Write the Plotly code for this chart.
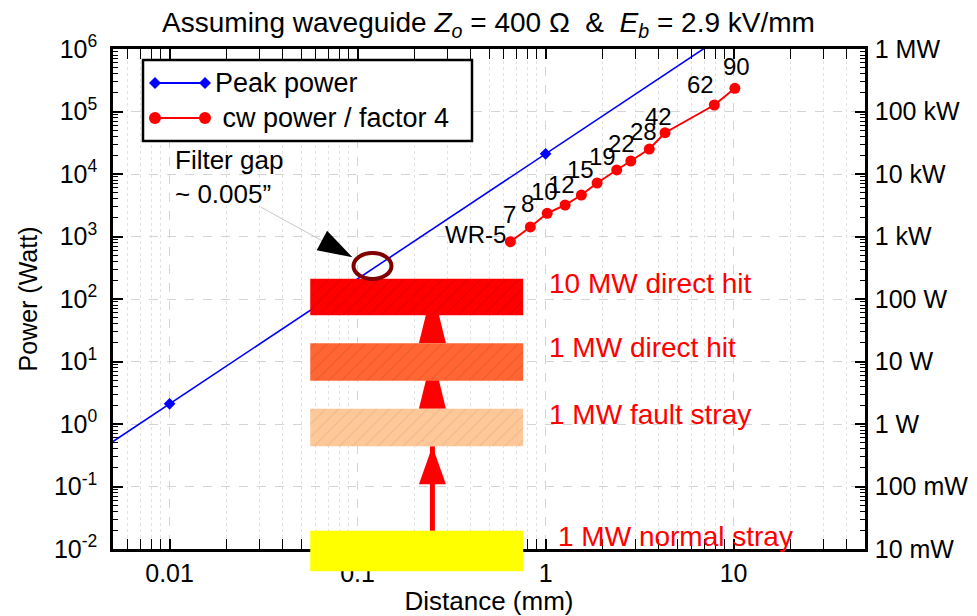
import math
import plotly.graph_objects as go

# ---------------- data ----------------
PEAK_X = [0.005, 0.01, 1.0, 10.0]            # distance (mm)
PEAK_Y = [0.525, 2.1, 2.1e4, 2.1e6]          # peak power (W)
PEAK_MARK_X = [0.01, 1.0]
PEAK_MARK_Y = [2.1, 2.1e4]

WR_LABELS = ["WR-5", "7", "8", "10", "12", "15", "19", "22", "28", "42", "62", "90"]
WR_GAP_MM = [0.65, 0.83, 1.02, 1.27, 1.55, 1.88, 2.39, 2.84, 3.56, 4.32, 7.90, 10.16]
CW_POWER_W = [826, 1420, 2350, 3190, 4610, 7180, 11600, 16150, 25100, 45800, 127000, 235000]

# label offsets (pixels) relative to each point
WR_LABEL_DX = [-2, -12, -11, -5, -4, -1, 1, 6, 10, 9, 2, 2]
WR_LABEL_DY = [-8, -3, -6, -2, -5, -2, -2, 2, 2, 1, 5, 6]
WR_LABEL_ANCHOR = ["right"] * 11 + ["center"]

BAR_LABELS = ["10 MW direct hit", "1 MW direct hit", "1 MW fault stray", "1 MW normal stray"]
BAR_X = [0.056, 0.76]
BAR_LOW = [55, 4.9, 0.44, 0.0044]
BAR_HIGH = [210, 19.5, 1.75, 0.0195]
BAR_COLORS = ["#FF0000", "#FF6633", "#FFC899", "#FFFF00"]
BAR_HATCH = ["#C80000", "#D44E22", "#DDA57C", "#D8D800"]

ARROW_X = 0.25

FILTER_GAP_MM = 0.12
FILTER_GAP_W = 337

Y_TICKS = [1e-2, 1e-1, 1e0, 1e1, 1e2, 1e3, 1e4, 1e5, 1e6]
Y_LEFT_TEXT = ["10<sup>-2</sup>", "10<sup>-1</sup>", "10<sup>0</sup>", "10<sup>1</sup>", "10<sup>2</sup>",
               "10<sup>3</sup>", "10<sup>4</sup>", "10<sup>5</sup>", "10<sup>6</sup>"]
Y_RIGHT_TEXT = ["10 mW", "100 mW", "1 W", "10 W", "100 W", "1 kW", "10 kW", "100 kW", "1 MW"]
X_TICKS = [0.01, 0.1, 1, 10]
X_TICK_TEXT = ["0.01", "0.1", "1", "10"]

FONT = "Liberation Sans, Arial, Helvetica, sans-serif"
X_RANGE = [math.log10(0.005), math.log10(50)]
Y_RANGE = [-2, 6]

minor_vals = [m * 10 ** e for e in range(-3, 7) for m in range(2, 10)]

fig = go.Figure()

# peak power line (drawn first, bars cover it)
fig.add_trace(go.Scatter(x=PEAK_X, y=PEAK_Y, mode="lines",
                         line=dict(color="#0000FF", width=1.6), showlegend=False, hoverinfo="skip"))
fig.add_trace(go.Scatter(x=PEAK_MARK_X, y=PEAK_MARK_Y, mode="markers",
                         marker=dict(symbol="diamond", size=9, color="#0000FF"),
                         showlegend=False, hoverinfo="skip"))

# threshold bars (the three fully inside the axes)
for i in range(3):
    fig.add_trace(go.Scatter(
        x=[BAR_X[0], BAR_X[1], BAR_X[1], BAR_X[0], BAR_X[0]],
        y=[BAR_LOW[i], BAR_LOW[i], BAR_HIGH[i], BAR_HIGH[i], BAR_LOW[i]],
        mode="lines", fill="toself", fillcolor=BAR_COLORS[i],
        fillpattern=dict(shape="/", bgcolor=BAR_COLORS[i], fgcolor=BAR_HATCH[i], size=9, solidity=0.12),
        line=dict(width=0, color=BAR_COLORS[i]), showlegend=False, hoverinfo="skip"))

# cw power trace
fig.add_trace(go.Scatter(x=WR_GAP_MM, y=CW_POWER_W, mode="lines+markers",
                         line=dict(color="#FF0000", width=2),
                         marker=dict(symbol="circle", size=11, color="#FF0000"),
                         cliponaxis=False, showlegend=False, hoverinfo="skip"))

# dummy trace to activate the right axis
fig.add_trace(go.Scatter(x=[1], y=[1], yaxis="y2", mode="markers",
                         marker=dict(opacity=0), showlegend=False, hoverinfo="skip"))

shapes = []
# red arrows (under the bars)
shapes.append(dict(type="line", xref="x", yref="y", x0=ARROW_X, x1=ARROW_X,
                   y0=BAR_HIGH[3], y1=BAR_LOW[2], line=dict(color="#FF0000", width=5), layer="between"))
shapes.append(dict(type="path", xref="x", yref="y", xsizemode="pixel", ysizemode="pixel",
                   xanchor=ARROW_X, yanchor=BAR_LOW[2], path="M 0 0 L -13.5 -38 L 13.5 -38 Z",
                   fillcolor="#FF0000", line=dict(width=0), layer="between"))
for i in (1, 0):
    shapes.append(dict(type="path", xref="x", yref="y", xsizemode="pixel", ysizemode="pixel",
                       xanchor=ARROW_X, yanchor=BAR_HIGH[i + 1], path="M -13.5 0 L 13.5 0 L 0 55 Z",
                       fillcolor="#FF0000", line=dict(width=0), layer="between"))

# yellow bar extends below the axis -> paper y
shapes.append(dict(type="rect", xref="x", yref="paper", x0=BAR_X[0], x1=BAR_X[1],
                   y0=(math.log10(BAR_LOW[3]) - Y_RANGE[0]) / (Y_RANGE[1] - Y_RANGE[0]),
                   y1=(math.log10(BAR_HIGH[3]) - Y_RANGE[0]) / (Y_RANGE[1] - Y_RANGE[0]),
                   fillcolor=BAR_COLORS[3], line=dict(width=0), layer="above"))

# filter gap ring (ellipse from cubic Beziers) + pointer
RX, RY, K = 19.0, 13.0, 0.5523
ring_path = (f"M {RX} 0 C {RX} {K*RY} {K*RX} {RY} 0 {RY} "
             f"C {-K*RX} {RY} {-RX} {K*RY} {-RX} 0 "
             f"C {-RX} {-K*RY} {-K*RX} {-RY} 0 {-RY} "
             f"C {K*RX} {-RY} {RX} {-K*RY} {RX} 0 Z")
shapes.append(dict(type="path", xref="x", yref="y", xsizemode="pixel", ysizemode="pixel",
                   xanchor=FILTER_GAP_MM, yanchor=FILTER_GAP_W, path=ring_path,
                   fillcolor="rgba(0,0,0,0)", line=dict(color="#800000", width=4), layer="above"))
shapes.append(dict(type="path", xref="x", yref="y", xsizemode="pixel", ysizemode="pixel",
                   xanchor=FILTER_GAP_MM, yanchor=FILTER_GAP_W, path="M -111.7 59 L -50 25",
                   line=dict(color="#C8C8C8", width=1), layer="above"))
shapes.append(dict(type="path", xref="x", yref="y", xsizemode="pixel", ysizemode="pixel",
                   xanchor=FILTER_GAP_MM, yanchor=FILTER_GAP_W,
                   path="M -20 8.7 L -45.4 35.2 L -55.8 15.8 Z",
                   fillcolor="black", line=dict(width=0), layer="above"))

# custom legend
PW, PH, L, T = 752.0, 500.0, 113.0, 49.0
def px(x):
    return (x - L) / PW
def py(y):
    return 1 - (y - T) / PH

shapes.append(dict(type="rect", xref="paper", yref="paper", x0=px(143), x1=px(472), y0=py(141), y1=py(60),
                   fillcolor="white", line=dict(color="black", width=2.5), layer="above"))
for yy, col in ((83, "#0000FF"), (118, "#FF0000")):
    shapes.append(dict(type="line", xref="paper", yref="paper", x0=px(155), x1=px(205), y0=py(yy), y1=py(yy),
                       line=dict(color=col, width=2), layer="above"))
for xx in (155, 205):
    shapes.append(dict(type="path", xref="paper", yref="paper", xsizemode="pixel", ysizemode="pixel",
                       xanchor=px(xx), yanchor=py(83), path="M 0 6 L 6 0 L 0 -6 L -6 0 Z",
                       fillcolor="#0000FF", line=dict(width=0), layer="above"))
    shapes.append(dict(type="circle", xref="paper", yref="paper", xsizemode="pixel", ysizemode="pixel",
                       xanchor=px(xx), yanchor=py(118), x0=-6, x1=6, y0=-6, y1=6,
                       fillcolor="#FF0000", line=dict(width=0), layer="above"))

annotations = [
    dict(text="Peak power", xref="paper", yref="paper", x=px(213), y=py(83), xanchor="left", yanchor="middle",
         showarrow=False, font=dict(size=27, color="black", family=FONT)),
    dict(text="\u00a0cw power / factor 4", xref="paper", yref="paper", x=px(213), y=py(118),
         xanchor="left", yanchor="middle", showarrow=False, font=dict(size=27, color="black", family=FONT)),
    dict(text="Filter gap<br>~ 0.005\u201d", xref="paper", yref="paper", x=px(173), y=py(143),
         xanchor="left", yanchor="top", align="left", showarrow=False,
         font=dict(size=26, color="black", family=FONT)),
]
label_pos = [(547, 283), (547, 347), (547, 414), (556, 536)]
for lab, (lx, ly) in zip(BAR_LABELS, label_pos):
    annotations.append(dict(text=lab, xref="paper", yref="paper", x=px(lx), y=py(ly), xanchor="left",
                            yanchor="middle", showarrow=False, font=dict(size=28, color="#FF0000", family=FONT)))
for lab, xv, yv, dx, dy, anc in zip(WR_LABELS, WR_GAP_MM, CW_POWER_W, WR_LABEL_DX, WR_LABEL_DY, WR_LABEL_ANCHOR):
    annotations.append(dict(text=lab, xref="x", yref="y", x=math.log10(xv), y=math.log10(yv),
                            xanchor=anc, yanchor="bottom", xshift=dx, yshift=dy, showarrow=False,
                            font=dict(size=24, color="black", family=FONT)))

axis_common = dict(type="log", showline=True, linecolor="black", linewidth=2.5, automargin=False,
                   ticks="inside", ticklen=10, tickwidth=1.5, tickcolor="black",
                   tickfont=dict(size=25, color="black", family=FONT))

fig.update_layout(
    width=977, height=616, autosize=False,
    margin=dict(l=113, r=112, t=49, b=67),
    paper_bgcolor="white", plot_bgcolor="white",
    font=dict(family=FONT, color="black"),
    title=dict(text="Assuming waveguide <i>Z<sub>o</sub></i> = 400 \u03a9 \u00a0&amp;\u00a0 <i>E<sub>b</sub></i> = 2.9 kV/mm",
               x=0.5, xanchor="center", y=1 - 22 / 616, yanchor="middle", yref="container",
               font=dict(size=28, color="black", family=FONT)),
    xaxis=dict(axis_common, range=X_RANGE, tickvals=X_TICKS, ticktext=X_TICK_TEXT, mirror="allticks",
               showgrid=True, gridcolor="#D4D4D4", griddash="dash", gridwidth=1,
               minor=dict(tickmode="array", tickvals=minor_vals, ticks="inside", ticklen=5, tickwidth=1,
                          tickcolor="black", showgrid=True, gridcolor="#E2E2E2", griddash="dot", gridwidth=1),
               ticklabelstandoff=0,
               title=dict(text="Distance (mm)", font=dict(size=26, color="black", family=FONT), standoff=9)),
    yaxis=dict(axis_common, range=Y_RANGE, tickvals=Y_TICKS, ticktext=Y_LEFT_TEXT,
               showgrid=True, gridcolor="#D4D4D4", griddash="dash", gridwidth=1,
               minor=dict(tickmode="array", tickvals=minor_vals, ticks="inside", ticklen=5, tickwidth=1,
                          tickcolor="black", showgrid=False),
               ticklabelstandoff=8,
               title=dict(text="Power (Watt)", font=dict(size=25, color="black", family=FONT), standoff=10)),
    yaxis2=dict(axis_common, range=Y_RANGE, overlaying="y", side="right", tickvals=Y_TICKS,
                ticktext=Y_RIGHT_TEXT, showgrid=False,
                minor=dict(tickmode="array", tickvals=minor_vals, ticks="inside", ticklen=5, tickwidth=1,
                           tickcolor="black", showgrid=False),
                ticklabelstandoff=2),
    shapes=shapes,
    annotations=annotations,
    showlegend=False,
)

fig.write_html("out.html", config={"displayModeBar": False},
               post_script="document.body.style.margin='0';")
